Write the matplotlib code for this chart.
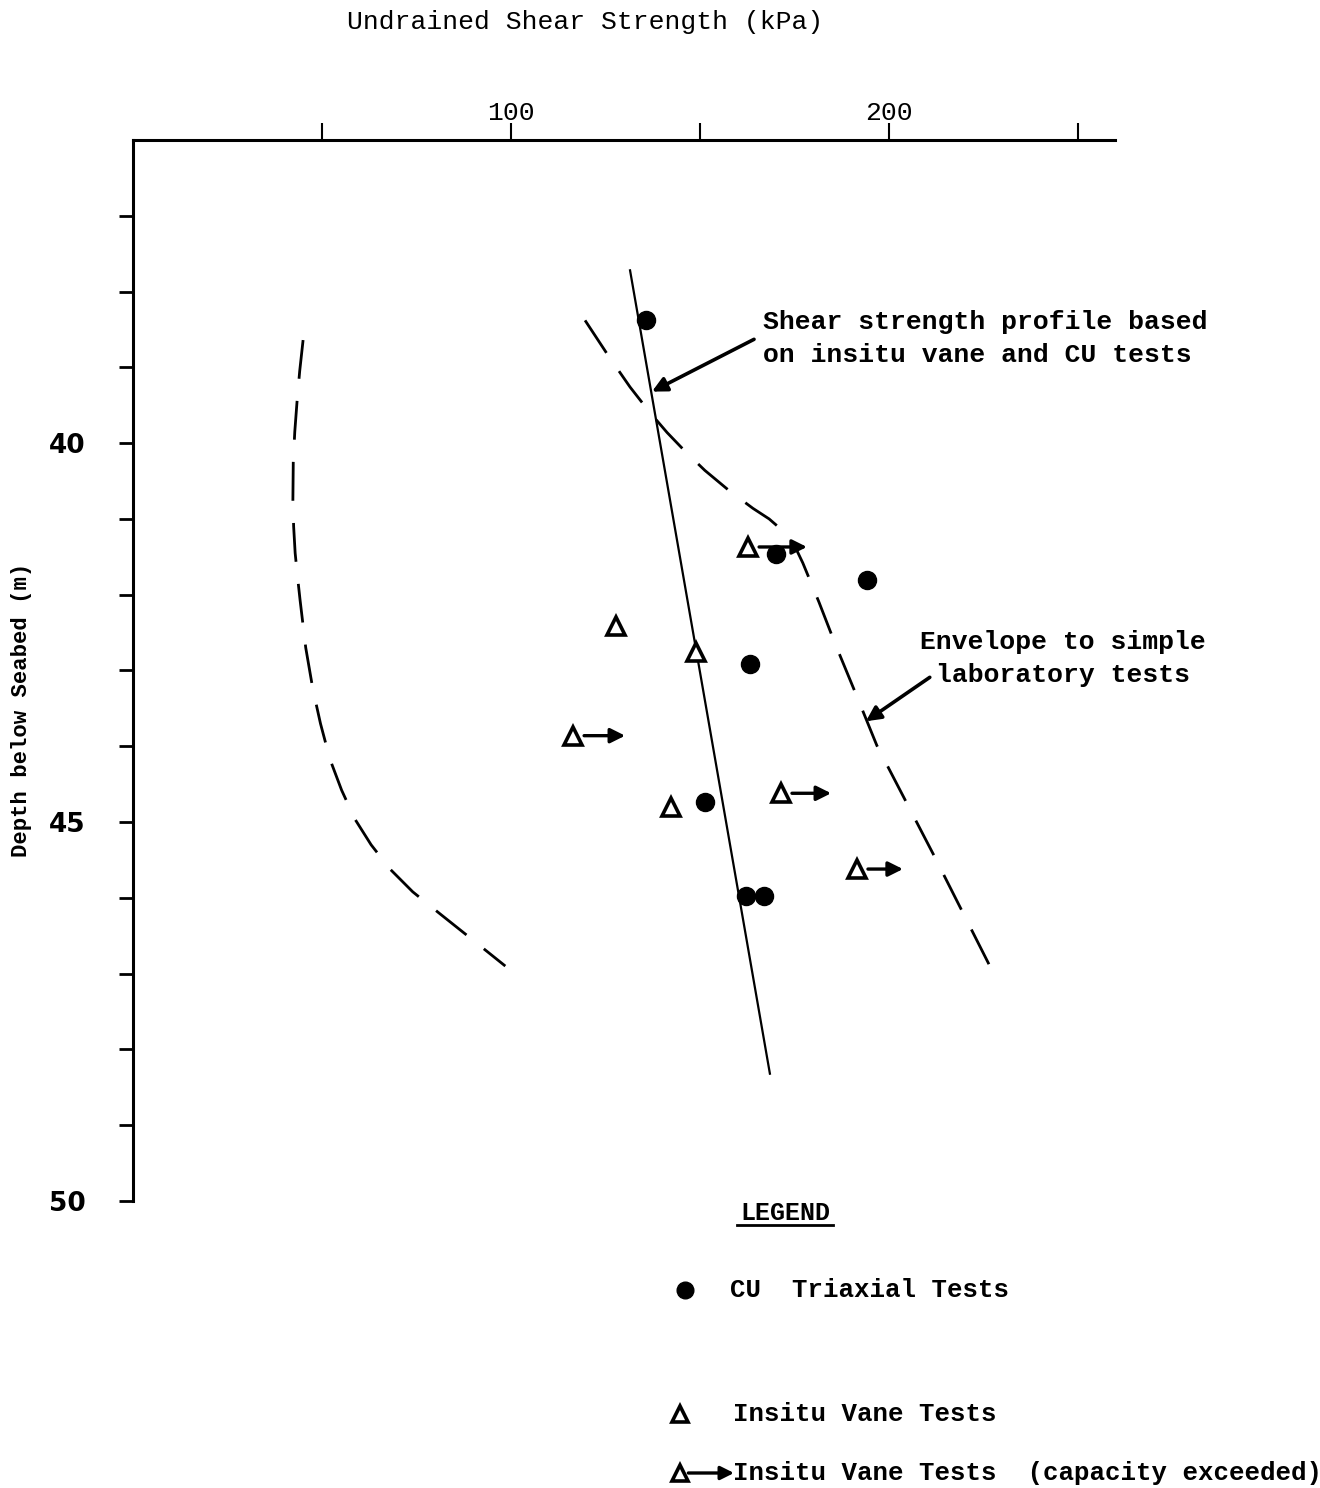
import matplotlib
matplotlib.use('Agg')
import matplotlib.pyplot as plt
from matplotlib.lines import Line2D

# CU triaxial tests (kPa, m)
cu_strength = [135.7, 170.1, 194.2, 163.2, 151.3, 162.2, 166.9]
cu_depth = [38.38, 41.46, 41.80, 42.91, 44.74, 45.97, 45.97]

# insitu vane tests
vane_strength = [127.8, 148.9, 142.3]
vane_depth = [42.41, 42.76, 44.80]

# vane tests where capacity was exceeded (arrow tip = lower bound shown)
exceed_strength = [162.7, 116.4, 171.4, 191.5]
exceed_depth = [41.37, 43.86, 44.62, 45.62]
exceed_arrow_to = [178.3, 130.2, 184.7, 203.7]

# design profile
profile_strength = [131.5, 168.5]
profile_depth = [37.72, 48.32]

# envelope to simple laboratory tests
envelope_strength = [119.6, 125.8, 131.5, 136.5, 141.3, 146.3, 151.3, 157.8, 164.0,
                     168.3, 172.0, 174.9, 177.2, 181.5, 185.7, 191.5, 196.8, 212.0, 227.2]
envelope_depth = [38.38, 38.85, 39.26, 39.58, 39.86, 40.12, 40.36, 40.63, 40.86,
                  41.00, 41.16, 41.34, 41.58, 42.10, 42.64, 43.34, 43.99, 45.45, 46.95]

# lower dashed curve
lower_strength = [45.0, 44.1, 43.4, 42.8, 42.4, 42.3, 42.5, 42.9, 43.5, 44.2, 45.7,
                  47.6, 49.6, 52.1, 55.2, 58.7, 63.0, 68.0, 74.0, 81.2, 89.0, 98.5]
lower_depth = [38.64, 39.05, 39.45, 39.85, 40.25, 40.75, 41.10, 41.45, 41.75, 42.07,
               42.70, 43.25, 43.70, 44.17, 44.58, 44.96, 45.30, 45.62, 45.92, 46.21,
               46.52, 46.90]

MONO = 'Liberation Mono'

fig = plt.figure(figsize=(13.2, 14.88), dpi=100)
ax = fig.add_axes([133 / 1320, 1 - 1201 / 1488, 982 / 1320, 1061 / 1488])

ax.set_xlim(0, 259.8)
ax.set_ylim(50, 36)

for side in ['right', 'bottom']:
    ax.spines[side].set_visible(False)
ax.spines['top'].set_linewidth(2.2)
ax.spines['left'].set_linewidth(2.2)

ax.xaxis.tick_top()
ax.set_xticks([50, 100, 150, 200, 250])
ax.set_xticklabels(['', '100', '', '200', ''])
ax.tick_params(axis='x', direction='out', length=12, width=1.5, pad=-1,
               labelsize=19)
for lbl in ax.get_xticklabels():
    lbl.set_fontfamily(MONO)

ax.set_yticks(range(37, 51))
ax.set_yticklabels(['40' if d == 40 else '45' if d == 45 else '50' if d == 50 else ''
                    for d in range(37, 51)])
ax.tick_params(axis='y', direction='out', length=10, width=2, pad=24, labelsize=19)
for lbl in ax.get_yticklabels():
    lbl.set_fontweight('bold')

ax.set_ylabel('Depth below Seabed (m)', fontsize=16, fontfamily=MONO,
              fontweight='bold')
ax.yaxis.set_label_coords(-0.103, 1 - (710 - 140) / 1061)

fig.text(585 / 1320, 1 - 22 / 1488, 'Undrained Shear Strength (kPa)',
         ha='center', va='center', fontsize=19, fontfamily=MONO)

# lines
ax.plot(profile_strength, profile_depth, color='black', lw=1.6)
ax.plot(envelope_strength, envelope_depth, color='black', lw=2,
        dashes=(14, 8))
ax.plot(lower_strength, lower_depth, color='black', lw=2,
        dashes=(14, 8))

# markers
ax.plot(cu_strength, cu_depth, 'o', color='black', ms=13, clip_on=False)
ax.plot(vane_strength, vane_depth, '^', mfc='white', mec='black', ms=13, mew=2.6)
for x0, y0, x1 in zip(exceed_strength, exceed_depth, exceed_arrow_to):
    ax.annotate('', xy=(x1, y0), xytext=(x0, y0),
                arrowprops=dict(arrowstyle='-|>', color='black', lw=2.4,
                                shrinkA=8, shrinkB=0, mutation_scale=22))
ax.plot(exceed_strength, exceed_depth, '^', mfc='white', mec='black', ms=13, mew=2.6)

# annotations
ax.annotate('', xy=(137.3, 39.32), xytext=(164.3, 38.63),
            arrowprops=dict(arrowstyle='-|>', color='black', lw=2.6,
                            shrinkA=0, shrinkB=0, mutation_scale=22))
ax.text(166.6, 38.62, 'Shear strength profile based\non insitu vane and CU tests',
        fontsize=19, fontweight='bold', fontfamily=MONO,
        ha='left', va='center', linespacing=1.45)
ax.annotate('', xy=(193.9, 43.67), xytext=(210.8, 43.09),
            arrowprops=dict(arrowstyle='-|>', color='black', lw=2.6,
                            shrinkA=0, shrinkB=0, mutation_scale=22))
ax.text(246.0, 42.84, 'Envelope to simple\nlaboratory tests',
        fontsize=19, fontweight='bold', fontfamily=MONO,
        ha='center', va='center', linespacing=1.45)

# legend drawn on an overlay in pixel coordinates
lg = fig.add_axes([0, 0, 1, 1])
lg.set_xlim(0, 1320)
lg.set_ylim(1488, 0)
lg.axis('off')
lg.patch.set_alpha(0)

lg.text(785, 1213, 'LEGEND', ha='center', va='center', fontsize=18,
        fontweight='bold', fontfamily=MONO)
lg.add_line(Line2D([737, 833], [1225, 1225], color='black', lw=2))

lg.plot([685], [1290], 'o', color='black', ms=12)
lg.text(730, 1290, 'CU  Triaxial Tests', ha='left', va='center', fontsize=18.5,
        fontweight='bold', fontfamily=MONO)

lg.plot([680], [1414], '^', mfc='white', mec='black', ms=11, mew=2.6)
lg.text(733, 1414, 'Insitu Vane Tests', ha='left', va='center', fontsize=18.5,
        fontweight='bold', fontfamily=MONO)

lg.annotate('', xy=(734, 1473), xytext=(680, 1473),
            arrowprops=dict(arrowstyle='-|>', color='black', lw=2.4,
                            shrinkA=6, shrinkB=0, mutation_scale=20))
lg.plot([680], [1473], '^', mfc='white', mec='black', ms=11, mew=2.6)
lg.text(733, 1473, 'Insitu Vane Tests  (capacity exceeded)', ha='left', va='center',
        fontsize=18.5, fontweight='bold', fontfamily=MONO)

fig.savefig('out.png', dpi=100)
plt.close(fig)
